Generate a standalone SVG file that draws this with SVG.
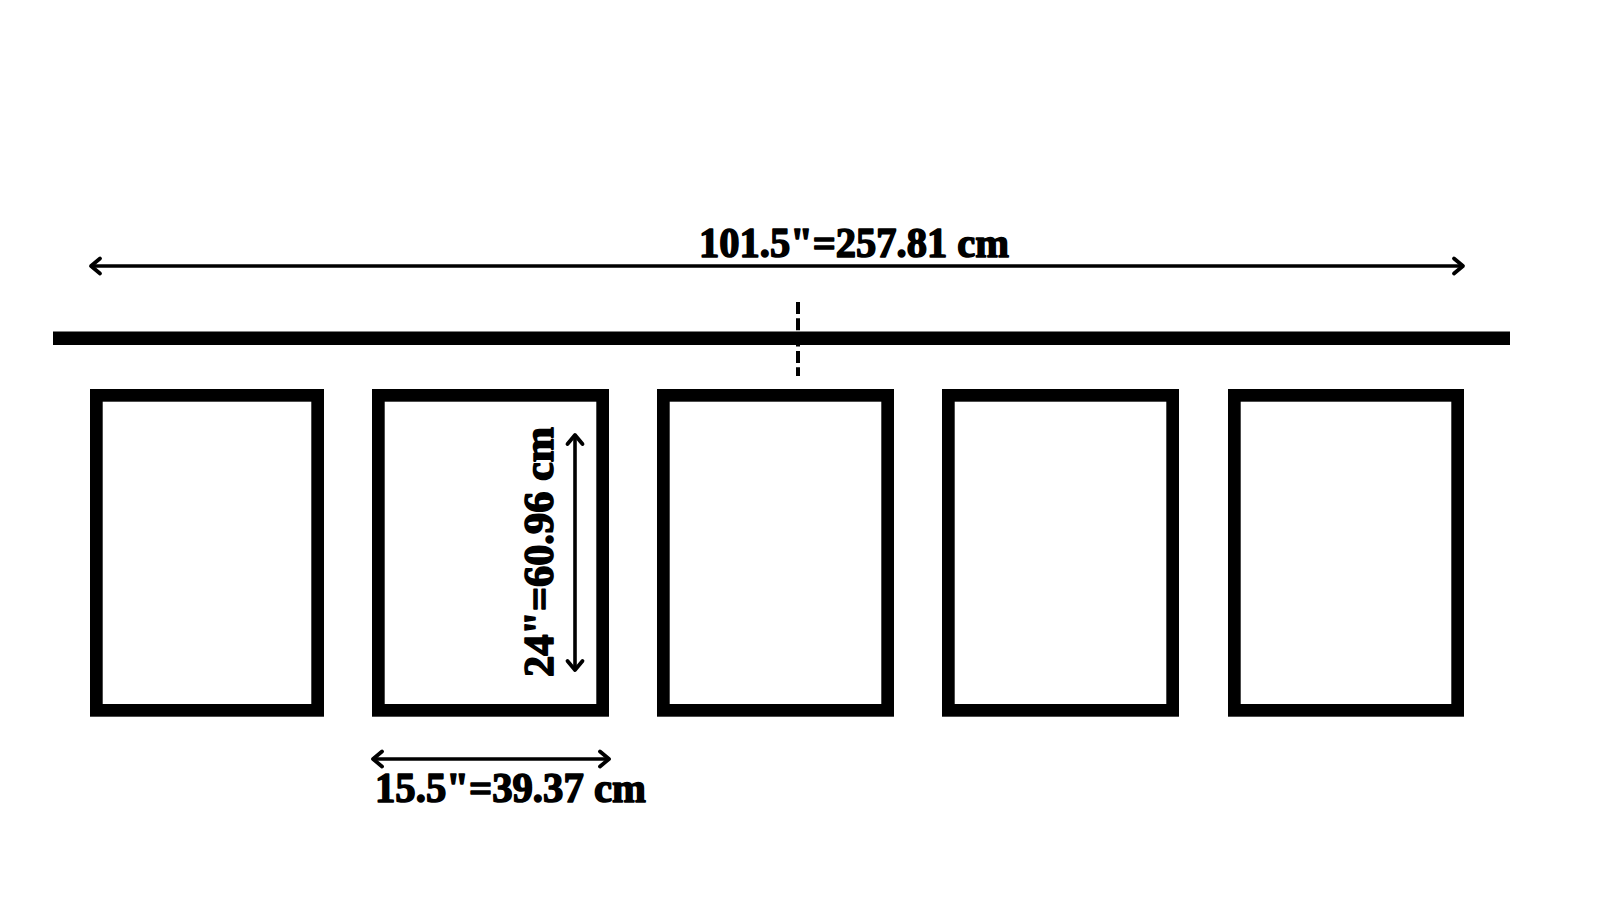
<svg xmlns="http://www.w3.org/2000/svg" width="1600" height="900" viewBox="0 0 1600 900">
  <style>
    .frame { fill: #ffffff; stroke: #000000; stroke-width: 12.7; }
    .dim { stroke: #000000; stroke-width: 3.6; fill: none; }
    .head { stroke: #000000; stroke-width: 3.8; fill: none; stroke-linecap: round; stroke-linejoin: round; }
    .label { font-family: "Liberation Serif", "DejaVu Serif", serif; font-weight: bold; font-size: 43px; fill: #000000; stroke: #000000; stroke-width: 1.6; stroke-linejoin: round; }
  </style>
  <defs>
    <marker id="chev" markerUnits="userSpaceOnUse" markerWidth="24" markerHeight="24" viewBox="-12 -12 24 24" refX="0" refY="0" orient="auto-start-reverse">
      <path class="head" d="M-9,-7.5 L0,0 L-9,7.5"/>
    </marker>
  </defs>
  <rect x="0" y="0" width="1600" height="900" fill="#ffffff"/>

  <g id="rail">
    <rect x="53" y="331.5" width="1457" height="13.5" fill="#000000"/>
    <line x1="798" y1="302" x2="798" y2="376" stroke="#000000" stroke-width="4" stroke-dasharray="12 4.3"/>
  </g>

  <g id="frame-1"><rect class="frame" x="96.35" y="395.35" width="221.3" height="315"/></g>
  <g id="frame-2"><rect class="frame" x="378.35" y="395.35" width="224.3" height="315"/></g>
  <g id="frame-3"><rect class="frame" x="663.35" y="395.35" width="224.3" height="315"/></g>
  <g id="frame-4"><rect class="frame" x="948.35" y="395.35" width="224.3" height="315"/></g>
  <g id="frame-5"><rect class="frame" x="1234.35" y="395.35" width="223.3" height="315"/></g>

  <g id="connectors">
    <line class="dim" x1="91" y1="266" x2="1463" y2="266" marker-start="url(#chev)" marker-end="url(#chev)"/>
    <line class="dim" x1="373" y1="759" x2="609" y2="759" marker-start="url(#chev)" marker-end="url(#chev)"/>
    <line class="dim" x1="575" y1="435" x2="575" y2="670" marker-start="url(#chev)" marker-end="url(#chev)"/>
  </g>

  <g id="labels">
    <text class="label" x="699" y="257" textLength="310" lengthAdjust="spacingAndGlyphs">101.5"=257.81 cm</text>
    <text class="label" x="375" y="801.5" textLength="271" lengthAdjust="spacingAndGlyphs">15.5"=39.37 cm</text>
    <text class="label" transform="translate(553,677) rotate(-90)" x="0" y="0" textLength="250" lengthAdjust="spacingAndGlyphs">24"=60.96 cm</text>
  </g>
</svg>
